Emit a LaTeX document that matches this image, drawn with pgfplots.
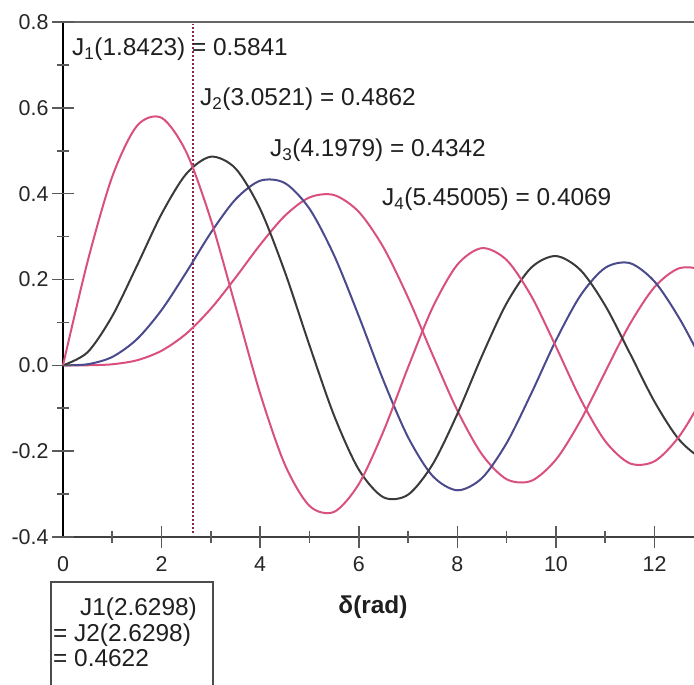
\documentclass[border=0pt]{standalone}
\usepackage{pgfplots}
\pgfplotsset{compat=1.18}
\usepackage{fontspec}
\setmainfont{Liberation Sans}
\definecolor{jpink}{HTML}{D9507F}
\definecolor{jdark}{HTML}{3A3A3A}
\definecolor{jblue}{HTML}{4A4A8C}
\definecolor{dotred}{HTML}{8B2545}
\definecolor{tickc}{HTML}{5A5A5A}
\begin{document}
\begin{tikzpicture}
\path[use as bounding box] (-63bp,-148bp) rectangle (631bp,537bp);
\clip (-63bp,-148bp) rectangle (631bp,537bp);
\begin{axis}[
  at={(0,0)}, anchor=south west,
  scale only axis, width=631bp, height=515bp,
  xmin=0, xmax=12.8, ymin=-0.4, ymax=0.8,
  clip=false,
  axis x line*=bottom, axis y line*=left,
  x axis line style={black!75, line width=1.4bp, -},
  y axis line style={black, line width=1.7bp, -},
  xtick={0,2,4,6,8,10,12}, xticklabels={0,2,4,6,8,10,12},
  ytick={-0.4,-0.2,0,0.2,0.4,0.6,0.8},
  yticklabels={-0.4,-0.2,0.0,0.2,0.4,0.6,0.8},
  tick align=center,
  major tick length=22bp,
  major tick style={draw=none},
  ticklabel style={font=\fontsize{21.5}{25}\selectfont, text=black!85},
  yticklabel style={anchor=east},
  xticklabel style={anchor=north, yshift=-5bp},
]
\draw[black!60, line width=1.4bp] (axis cs:0,0.8) -- (axis cs:12.8,0.8);
\draw[dotred, line width=1.8bp, dash pattern=on 1.8bp off 2.2bp] (axis cs:2.6298,-0.39) -- (axis cs:2.6298,0.795);

\addplot[jpink, line width=2bp, smooth] coordinates {
(0,0) (0.5,0.00016) (1.0,0.00248) (1.5,0.01177) (2.0,0.03400) (2.5,0.07378)
(3.0,0.13203) (3.5,0.20440) (4.0,0.28113) (4.5,0.34842) (5.0,0.39124)
(5.5,0.39671) (6.0,0.35764) (6.5,0.27480) (7.0,0.15780)
(7.5,0.02382) (8.0,-0.10536) (8.5,-0.20770) (9.0,-0.26547) (9.5,-0.26914)
(10.0,-0.21960) (10.5,-0.12833) (11.0,-0.01504) (11.5,0.09633) (12.0,0.18250)
(12.5,0.22616) (13.0,0.21928) (13.5,0.16486)};

\addplot[jblue, line width=2bp, smooth] coordinates {
(0,0) (0.5,0.00256) (1.0,0.01956) (1.5,0.06096) (2.0,0.12894) (2.5,0.21660)
(3.0,0.30906) (3.5,0.38677) (4.0,0.43017) (4.5,0.42470)
(5.0,0.36484) (5.5,0.25611) (6.0,0.11476) (6.5,-0.03535) (7.0,-0.16756)
(7.5,-0.25806) (8.0,-0.29113) (8.5,-0.26262) (9.0,-0.18094) (9.5,-0.06532)
(10.0,0.05838) (10.5,0.16328) (11.0,0.22735) (11.5,0.23814) (12.0,0.19514)
(12.5,0.11000) (13.0,0.00332) (13.5,-0.10007)};

\addplot[jdark, line width=2bp, smooth] coordinates {
(0,0) (0.5,0.03060) (1.0,0.11490) (1.5,0.23209) (2.0,0.35283) (2.5,0.44606)
(3.0,0.48609) (3.5,0.45863) (4.0,0.36413) (4.5,0.21785) (5.0,0.04657)
(5.5,-0.11732) (6.0,-0.24288) (6.5,-0.30743) (7.0,-0.30142)
(7.5,-0.23027) (8.0,-0.11299) (8.5,0.02232) (9.0,0.14484) (9.5,0.22788)
(10.0,0.25463) (10.5,0.22163) (11.0,0.13905) (11.5,0.02792) (12.0,-0.08493)
(12.5,-0.17336) (13.0,-0.21775) (13.5,-0.20934)};

\addplot[jpink, line width=2bp, smooth] coordinates {
(0,0) (0.5,0.24227) (1.0,0.44005)
(1.5,0.55794) (2.0,0.57672) (2.5,0.49709)
(3.0,0.33906) (3.5,0.13738) (4.0,-0.06604) (4.5,-0.23106) (5.0,-0.32758)
(5.5,-0.34143) (6.0,-0.27668) (6.5,-0.15384) (7.0,-0.00468)
(7.5,0.13525) (8.0,0.23464) (8.5,0.27312) (9.0,0.24531) (9.5,0.16127)
(10.0,0.04347) (10.5,-0.07885) (11.0,-0.17679) (11.5,-0.22843)
(12.0,-0.22345) (12.5,-0.16548) (13.0,-0.07032) (13.5,0.03804)};
\end{axis}

% tick marks crossing the axis lines
\foreach \i in {2,4,...,12} \draw[tickc, line width=1.6bp] (\i*49.297bp,-11bp) -- (\i*49.297bp,11bp);
\foreach \i in {1,3,...,11} \draw[tickc, line width=1.6bp] (\i*49.297bp,-6bp) -- (\i*49.297bp,6bp);
\foreach \j in {0,...,6} \draw[tickc, line width=1.6bp] (-11bp,\j*85.833bp) -- (11bp,\j*85.833bp);
\foreach \j in {0,...,5} \draw[tickc, line width=1.6bp] (-6bp,\j*85.833bp+42.917bp) -- (6bp,\j*85.833bp+42.917bp);

\begin{scope}[every node/.style={inner sep=0pt, text=black!88, font=\fontsize{24.5}{28}\selectfont}]
\node[anchor=base west] at (9bp,481bp) {J\textsubscript{1}(1.8423) = 0.5841};
\node[anchor=base west] at (137bp,431bp) {J\textsubscript{2}(3.0521) = 0.4862};
\node[anchor=base west] at (207bp,380bp) {J\textsubscript{3}(4.1979) = 0.4342};
\node[anchor=base west] at (319bp,331bp) {J\textsubscript{4}(5.45005) = 0.4069};
\node[anchor=base, font=\fontsize{24.5}{28}\selectfont\bfseries] at (310bp,-76bp) {δ(rad)};
\draw[black!70, line width=1.3bp] (-12bp,-45bp) rectangle (150bp,-170bp);
\node[anchor=base east] at (134bp,-78bp) {J1(2.6298)};
\node[anchor=base west] at (-10bp,-104bp) {= J2(2.6298)};
\node[anchor=base west] at (-10bp,-129bp) {= 0.4622};
\end{scope}
\end{tikzpicture}
\end{document}
